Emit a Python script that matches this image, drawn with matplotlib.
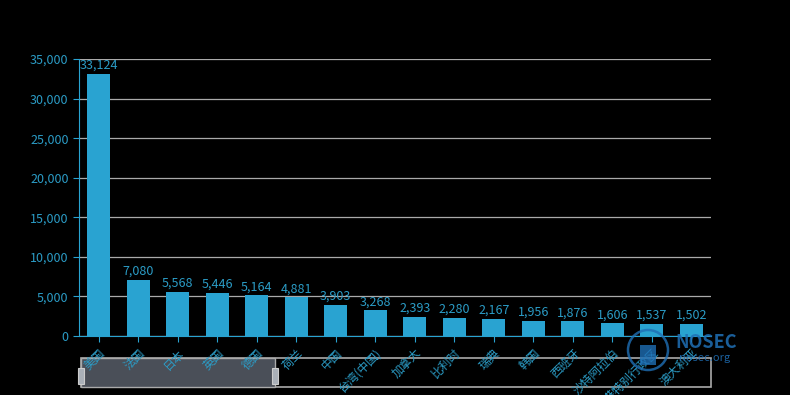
import matplotlib.pyplot as plt
from matplotlib.patches import Rectangle, Circle
import numpy as np

plt.rcParams['font.family'] = ['Noto Sans CJK SC', 'DejaVu Sans']

countries = ['美国', '法国', '日本', '英国', '德国', '荷兰', '中国', '台湾(中国)', '加拿大',
             '比利时', '瑞典', '韩国', '西班牙', '沙特阿拉伯', '香港特别行政区', '澳大利亚']
counts = [33124, 7080, 5568, 5446, 5164, 4881, 3903, 3268, 2393,
          2280, 2167, 1956, 1876, 1606, 1537, 1502]
yticks = [0, 5000, 10000, 15000, 20000, 25000, 30000, 35000]

blue = '#29a3d1'
txt = '#2b9cc6'

fig = plt.figure(figsize=(7.9, 3.95), dpi=100, facecolor='black')
ax = fig.add_axes([0.1, 0.1494, 0.8, 0.7012], facecolor='black')

x = np.arange(len(countries))
bars = ax.bar(x, counts, width=0.58, color=blue, zorder=3)
for xi, v in zip(x, counts):
    ax.text(xi, v + 250, f'{v:,}', ha='center', va='bottom', color=txt, fontsize=9, zorder=4)

ax.set_xlim(-0.5, len(countries) - 0.5)
ax.set_ylim(0, 35000)
ax.set_yticks(yticks)
ax.set_yticklabels([f'{t:,}' for t in yticks], color=txt, fontsize=9)
ax.set_xticks(x)
ax.set_xticklabels(countries, rotation=45, ha='right', rotation_mode='anchor', color=txt, fontsize=8.5)
ax.tick_params(axis='both', colors=blue, length=4, width=0.8, labelcolor=txt)
ax.grid(axis='y', color='#aaaaaa', linewidth=0.9, zorder=1)

for s in ['top', 'right']:
    ax.spines[s].set_visible(False)
ax.spines['left'].set_color(blue)
ax.spines['bottom'].set_color(blue)

# datazoom slider
fig.add_artist(Rectangle((0.1025, 0.0203), 0.7975, 0.0734, transform=fig.transFigure,
                         facecolor='none', edgecolor='#aaaaaa', linewidth=1.2, zorder=-1))
fig.add_artist(Rectangle((0.1025, 0.0203), 0.2456, 0.0734, transform=fig.transFigure,
                         facecolor='#4a4f58', edgecolor='#aaaaaa', linewidth=1, zorder=-1))
for hx in [0.1025, 0.348]:
    fig.add_artist(Rectangle((hx - 0.004, 0.028), 0.008, 0.04, transform=fig.transFigure,
                             facecolor='#aab0b8', edgecolor='#cccccc', linewidth=0.8, zorder=-1))

# watermark
fig.add_artist(Circle((648, 45), 20, transform=None, facecolor='none',
                      edgecolor='#1f6fb5', linewidth=1.8, alpha=0.8))
fig.add_artist(Rectangle((640, 30), 16, 20, transform=None, facecolor='#1f6fb5',
                         edgecolor='none', alpha=0.8))
fig.text(0.855, 0.12, 'NOSEC', color='#1f6fb5', fontsize=13, fontweight='bold', alpha=0.85)
fig.text(0.86, 0.085, 'nosec.org', color='#1f6fb5', fontsize=8, alpha=0.85)

fig.savefig('out.png', dpi=100, facecolor='black')
